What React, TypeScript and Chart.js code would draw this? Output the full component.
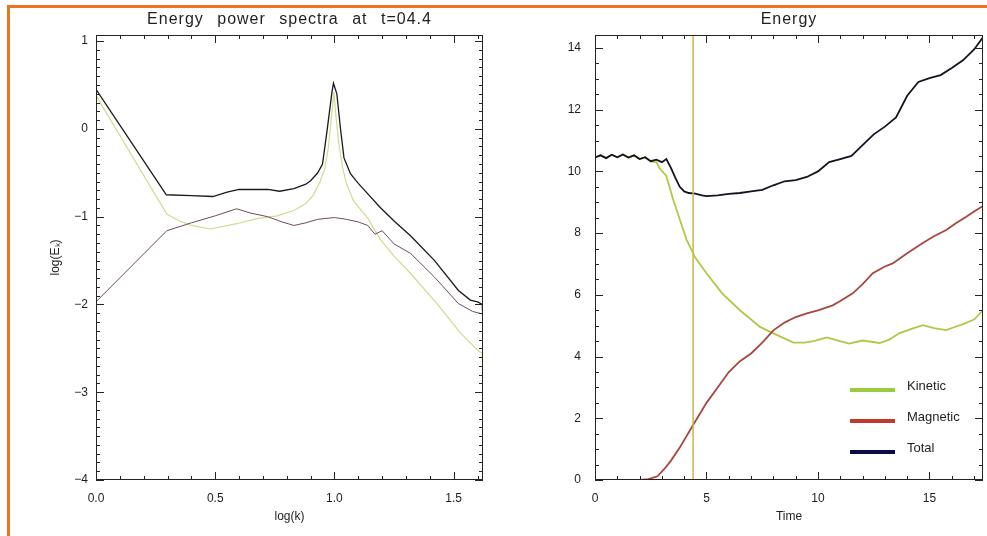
import React, { useEffect, useRef } from "react";
import { Chart, registerables } from "chart.js";
Chart.register(...registerables);

// ---------- Left panel: energy power spectra ----------
const specTitle = "Energy power spectra at t=04.4";
const specXTitle = "log(k)";
const specYTitle = "log(E\u2096)";

const specTotalK = [0, 0.295, 0.4, 0.49, 0.55, 0.6, 0.68, 0.72, 0.77, 0.83, 0.88, 0.9, 0.93, 0.95, 0.97, 0.99, 0.996, 1.01, 1.025, 1.04, 1.067, 1.1, 1.14, 1.19, 1.25, 1.32, 1.42, 1.52, 1.57, 1.6, 1.62, 1.623];
const specTotalE = [0.45, -0.75, -0.76, -0.77, -0.72, -0.69, -0.69, -0.69, -0.71, -0.68, -0.63, -0.59, -0.5, -0.4, 0.0, 0.43, 0.52, 0.4, 0.01, -0.33, -0.51, -0.62, -0.74, -0.89, -1.05, -1.22, -1.5, -1.84, -1.95, -1.97, -2.0, -2.2];

const specKinK = [0, 0.297, 0.35, 0.4, 0.48, 0.59, 0.68, 0.76, 0.83, 0.88, 0.91, 0.94, 0.96, 0.975, 0.988, 0.997, 1.008, 1.02, 1.035, 1.05, 1.08, 1.14, 1.19, 1.25, 1.32, 1.43, 1.53, 1.6, 1.62, 1.623];
const specKinE = [0.38, -0.97, -1.05, -1.1, -1.14, -1.08, -1.02, -0.99, -0.93, -0.85, -0.76, -0.6, -0.45, -0.2, 0.15, 0.42, 0.1, -0.2, -0.45, -0.62, -0.82, -1.02, -1.25, -1.45, -1.65, -1.99, -2.33, -2.52, -2.56, -2.86];

const specMagK = [0, 0.297, 0.4, 0.5, 0.59, 0.65, 0.72, 0.78, 0.83, 0.88, 0.93, 1.0, 1.05, 1.1, 1.14, 1.17, 1.2, 1.25, 1.32, 1.42, 1.52, 1.58, 1.623];
const specMagE = [-1.97, -1.16, -1.07, -0.99, -0.91, -0.96, -1.0, -1.06, -1.1, -1.07, -1.03, -1.01, -1.03, -1.06, -1.1, -1.2, -1.16, -1.31, -1.42, -1.69, -1.99, -2.08, -2.11];

const specXTicks = [0, 0.5, 1.0, 1.5];
const specXTickLabels = ["0.0", "0.5", "1.0", "1.5"];
const specYTicks = [-4, -3, -2, -1, 0, 1];

// ---------- Right panel: energy vs time ----------
const energyTitle = "Energy";
const energyXTitle = "Time";

const totalT = [0, 0.25, 0.5, 0.75, 1.0, 1.25, 1.5, 1.75, 2.0, 2.25, 2.5, 2.75, 3.0, 3.2, 3.4, 3.6, 3.8, 4.0, 4.2, 4.5, 4.8, 5.0, 5.5, 6.0, 6.5, 7.0, 7.5, 8.0, 8.5, 9.0, 9.5, 10.0, 10.5, 11.0, 11.5, 12.0, 12.5, 13.0, 13.5, 14.0, 14.5, 15.0, 15.5, 16.0, 16.5, 17.0, 17.4];
const totalE = [10.45, 10.52, 10.43, 10.54, 10.46, 10.55, 10.45, 10.52, 10.4, 10.46, 10.33, 10.38, 10.3, 10.4, 10.12, 9.8, 9.5, 9.35, 9.3, 9.28, 9.22, 9.2, 9.22, 9.27, 9.3, 9.35, 9.4, 9.55, 9.68, 9.72, 9.82, 10.0, 10.3, 10.4, 10.5, 10.85, 11.2, 11.45, 11.75, 12.45, 12.9, 13.02, 13.12, 13.35, 13.6, 13.95, 14.35];

const kineticT = [0, 0.25, 0.5, 0.75, 1.0, 1.25, 1.5, 1.75, 2.0, 2.25, 2.5, 2.75, 2.9, 3.2, 3.5, 3.8, 4.1, 4.5, 5.0, 5.7, 6.5, 7.4, 8.0, 8.9, 9.4, 9.8, 10.4, 10.9, 11.4, 12.0, 12.76, 13.2, 13.66, 14.2, 14.7, 15.2, 15.75, 16.1, 16.5, 17.0, 17.4];
const kineticE = [10.45, 10.52, 10.43, 10.54, 10.46, 10.55, 10.45, 10.52, 10.4, 10.45, 10.32, 10.3, 10.1, 9.85, 9.1, 8.45, 7.8, 7.2, 6.7, 6.05, 5.5, 4.96, 4.75, 4.45, 4.45, 4.5, 4.62, 4.52, 4.42, 4.52, 4.44, 4.55, 4.76, 4.9, 5.02, 4.92, 4.86, 4.95, 5.05, 5.2, 5.5];

const magneticT = [0, 1.8, 2.0, 2.4, 2.8, 3.1, 3.4, 3.8, 4.4, 5.0, 5.5, 6.0, 6.5, 7.0, 7.5, 8.0, 8.5, 9.0, 9.5, 10.0, 10.66, 11.0, 11.56, 12.0, 12.46, 13.0, 13.35, 14.0, 14.7, 15.2, 15.75, 16.2, 16.65, 17.0, 17.4];
const magneticE = [0, 0, 0, 0.03, 0.12, 0.35, 0.62, 1.05, 1.78, 2.5, 3.0, 3.5, 3.85, 4.1, 4.45, 4.85, 5.1, 5.28, 5.4, 5.5, 5.66, 5.8, 6.05, 6.35, 6.7, 6.92, 7.02, 7.35, 7.68, 7.9, 8.1, 8.33, 8.53, 8.7, 8.88];

const currentTimeT = [4.4, 4.4];
const currentTimeE = [0, 14.42];

const energyXTicks = [0, 5, 10, 15];
const energyYTicks = [0, 2, 4, 6, 8, 10, 12, 14];
const legendLabels = ["Kinetic", "Magnetic", "Total"];

const FONT = '"Liberation Sans", Arial, sans-serif';
const TEXT = "#1e1e1e";

function pts(xs: number[], ys: number[]) {
  return xs.map((x, i) => ({ x, y: ys[i] }));
}

const framePlugin = {
  id: "idlFrame",
  afterDraw(chart: any, _args: any, o: any) {
    const { ctx, chartArea: a, scales } = chart;
    ctx.save();
    ctx.strokeStyle = o.axisColor;
    ctx.lineWidth = 1;
    ctx.strokeRect(a.left + 0.5, a.top + 0.5, a.right - a.left - 1, a.bottom - a.top - 1);
    const xs = scales.x;
    const ys = scales.y;
    ctx.beginPath();
    for (let i = Math.ceil(xs.min / o.xMinor - 1e-6); i * o.xMinor <= xs.max + 1e-9; i++) {
      const v = i * o.xMinor;
      const r = v / o.xMajor;
      const major = Math.abs(r - Math.round(r)) < 1e-6;
      const len = major ? o.majorLen : o.minorLen;
      const px = Math.round(xs.getPixelForValue(v)) + 0.5;
      ctx.moveTo(px, a.bottom);
      ctx.lineTo(px, a.bottom - len);
      ctx.moveTo(px, a.top);
      ctx.lineTo(px, a.top + len);
    }
    for (let i = Math.ceil(ys.min / o.yMinor - 1e-6); i * o.yMinor <= ys.max + 1e-9; i++) {
      const v = i * o.yMinor;
      const r = v / o.yMajor;
      const major = Math.abs(r - Math.round(r)) < 1e-6;
      const len = major ? o.majorLen : o.minorLen;
      const py = Math.round(ys.getPixelForValue(v)) + 0.5;
      ctx.moveTo(a.left, py);
      ctx.lineTo(a.left + len, py);
      ctx.moveTo(a.right, py);
      ctx.lineTo(a.right - len, py);
    }
    ctx.stroke();

    // titles
    ctx.fillStyle = TEXT;
    ctx.textAlign = "center";
    ctx.textBaseline = "alphabetic";
    ctx.font = `16px ${FONT}`;
    try {
      (ctx as any).letterSpacing = "1px";
      (ctx as any).wordSpacing = o.wordSpacing;
    } catch (e) {}
    ctx.fillText(o.title, (a.left + a.right) / 2, o.titleY);
    try {
      (ctx as any).letterSpacing = "0px";
      (ctx as any).wordSpacing = "0px";
    } catch (e) {}
    ctx.font = `12px ${FONT}`;
    ctx.fillText(o.xTitle, (a.left + a.right) / 2, o.xTitleY);
    if (o.yTitle) {
      ctx.save();
      ctx.translate(o.yTitleX, (a.top + a.bottom) / 2);
      ctx.rotate(-Math.PI / 2);
      ctx.fillText(o.yTitle, 0, 0);
      ctx.restore();
    }

    // legend
    if (o.legend) {
      const L = o.legend;
      chart.data.datasets.forEach((ds: any) => {
        const idx = L.labels.indexOf(ds.label);
        if (idx < 0) return;
        const y = L.y0 + idx * L.dy;
        ctx.strokeStyle = ds.legendColor;
        ctx.lineWidth = 4;
        ctx.beginPath();
        ctx.moveTo(L.x0, y);
        ctx.lineTo(L.x0 + L.len, y);
        ctx.stroke();
        ctx.fillStyle = TEXT;
        ctx.font = `13px ${FONT}`;
        ctx.textAlign = "left";
        ctx.textBaseline = "middle";
        ctx.fillText(ds.label, L.textX, y - 4);
      });
    }
    ctx.restore();
  },
};

function tickOpts(padding: number, cb?: (v: number) => string) {
  return {
    padding,
    color: TEXT,
    font: { family: FONT, size: 12 },
    autoSkip: false,
    maxRotation: 0,
    callback: cb,
  };
}

export default function App() {
  const leftRef = useRef<HTMLCanvasElement>(null);
  const rightRef = useRef<HTMLCanvasElement>(null);

  useEffect(() => {
    const left = new Chart(leftRef.current!, {
      type: "line",
      data: {
        datasets: [
          { label: "Kinetic", data: pts(specKinK, specKinE), borderColor: "#d0da92", borderWidth: 1.2, pointRadius: 0, tension: 0, order: 2 },
          { label: "Magnetic", data: pts(specMagK, specMagE), borderColor: "#6e4c5c", borderWidth: 1, pointRadius: 0, tension: 0, order: 1 },
          { label: "Total", data: pts(specTotalK, specTotalE), borderColor: "#1a1a1a", borderWidth: 1.3, pointRadius: 0, tension: 0, order: 0 },
        ],
      },
      options: {
        animation: false,
        responsive: false,
        events: [],
        layout: { padding: { top: 35, right: 17, left: 0, bottom: 0 } },
        plugins: {
          legend: { display: false },
          tooltip: { enabled: false },
          idlFrame: {
            axisColor: "#2a2222",
            xMinor: 0.1, xMajor: 0.5, yMinor: 0.1, yMajor: 1,
            majorLen: 8, minorLen: 4,
            title: specTitle, titleY: 24, wordSpacing: "8px",
            xTitle: specXTitle, xTitleY: 520,
            yTitle: specYTitle, yTitleX: 59,
          },
        } as any,
        scales: {
          x: {
            type: "linear", min: 0, max: 1.623,
            grid: { display: false, drawTicks: false }, border: { display: false },
            ticks: tickOpts(11, (v: number) => {
              const i = specXTicks.indexOf(v);
              return i >= 0 ? specXTickLabels[i] : "";
            }) as any,
            afterBuildTicks: (s: any) => { s.ticks = specXTicks.map((value) => ({ value })); },
            afterFit: (s: any) => { s.height = 56; },
          },
          y: {
            type: "linear", min: -4, max: 1.07,
            grid: { display: false, drawTicks: false }, border: { display: false },
            ticks: tickOpts(8, (v: number) => (v < 0 ? "\u2212" + Math.abs(v) : String(v))) as any,
            afterBuildTicks: (s: any) => { s.ticks = specYTicks.map((value) => ({ value })); },
            afterFit: (s: any) => { s.width = 96; },
          },
        },
      },
      plugins: [framePlugin],
    } as any);

    const right = new Chart(rightRef.current!, {
      type: "line",
      data: {
        datasets: [
          { label: "current", data: pts(currentTimeT, currentTimeE), borderColor: "#c8b64a", borderWidth: 1.5, pointRadius: 0, order: 0 },
          { label: "Kinetic", data: pts(kineticT, kineticE), borderColor: "#b0c846", legendColor: "#9cca3e", borderWidth: 1.8, pointRadius: 0, tension: 0, order: 3 },
          { label: "Magnetic", data: pts(magneticT, magneticE), borderColor: "#a8463e", legendColor: "#c23a2c", borderWidth: 1.8, pointRadius: 0, tension: 0, order: 2 },
          { label: "Total", data: pts(totalT, totalE), borderColor: "#141420", legendColor: "#0c0c44", borderWidth: 1.8, pointRadius: 0, tension: 0, order: 1 },
        ],
      },
      options: {
        animation: false,
        responsive: false,
        events: [],
        layout: { padding: { top: 35, right: 4, left: 0, bottom: 0 } },
        plugins: {
          legend: { display: false },
          tooltip: { enabled: false },
          idlFrame: {
            axisColor: "#2a2222",
            xMinor: 1, xMajor: 5, yMinor: 0.5, yMajor: 2,
            majorLen: 8, minorLen: 4,
            title: energyTitle, titleY: 24, wordSpacing: "0px",
            xTitle: energyXTitle, xTitleY: 520,
            legend: { labels: legendLabels, x0: 350, len: 45, textX: 407, y0: 390, dy: 31 },
          },
        } as any,
        scales: {
          x: {
            type: "linear", min: 0, max: 17.4,
            grid: { display: false, drawTicks: false }, border: { display: false },
            ticks: tickOpts(11) as any,
            afterBuildTicks: (s: any) => { s.ticks = energyXTicks.map((value) => ({ value })); },
            afterFit: (s: any) => { s.height = 56; },
          },
          y: {
            type: "linear", min: 0, max: 14.42,
            grid: { display: false, drawTicks: false }, border: { display: false },
            ticks: tickOpts(14) as any,
            afterBuildTicks: (s: any) => { s.ticks = energyYTicks.map((value) => ({ value })); },
            afterFit: (s: any) => { s.width = 95; },
          },
        },
      },
      plugins: [framePlugin],
    } as any);

    return () => {
      left.destroy();
      right.destroy();
    };
  }, []);

  return (
    <div style={{ position: "fixed", left: 0, top: 0, width: 987, height: 536, background: "#ffffff", overflow: "hidden" }}>
      <canvas ref={leftRef} width={500} height={536} style={{ position: "absolute", left: 0, top: 0, width: 500, height: 536 }} />
      <canvas ref={rightRef} width={487} height={536} style={{ position: "absolute", left: 500, top: 0, width: 487, height: 536 }} />
      <div style={{ position: "absolute", left: 7, top: 5, width: 980, height: 3, background: "#f07124" }} />
      <div style={{ position: "absolute", left: 7, top: 5, width: 3, height: 531, background: "#f07124" }} />
    </div>
  );
}
